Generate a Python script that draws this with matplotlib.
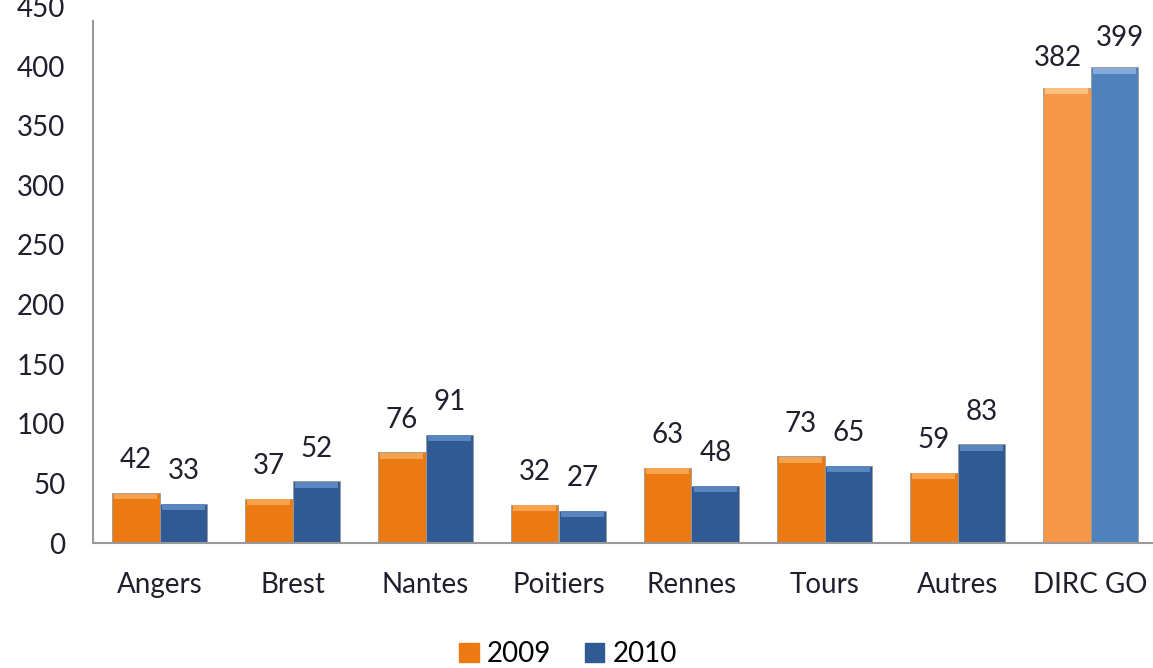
import numpy as np
import matplotlib.pyplot as plt

categories = ["Angers", "Brest", "Nantes", "Poitiers", "Rennes", "Tours", "Autres", "DIRC GO"]
years = ["2009", "2010"]
values_2009 = [42, 37, 76, 32, 63, 73, 59, 382]
values_2010 = [33, 52, 91, 27, 48, 65, 83, 399]
yticks = [0, 50, 100, 150, 200, 250, 300, 350, 400, 450]

plt.rcParams['font.family'] = ['Lato', 'DejaVu Sans']

orange = "#EC7A12"
orange_top = "#F7A24E"
blue = "#2F5A93"
blue_top = "#5A86C0"
# last group is drawn in lighter tones
orange_last = "#F79646"
orange_last_top = "#FBC07F"
blue_last = "#4F81BD"
blue_last_top = "#86AADB"
txt = "#1f1f2e"

fig = plt.figure(figsize=(11.53, 6.68), dpi=100)
ax = fig.add_axes([93 / 1153, 1 - 543 / 668, (1157 - 93) / 1153, (543 - 6.5) / 668])

x = np.arange(len(categories))
w = 0.36
cap = 5

for i in range(len(categories)):
    last = i == len(categories) - 1
    c1, t1 = (orange_last, orange_last_top) if last else (orange, orange_top)
    c2, t2 = (blue_last, blue_last_top) if last else (blue, blue_top)
    for xpos, v, c, t in [(x[i] - w / 2, values_2009[i], c1, t1),
                          (x[i] + w / 2, values_2010[i], c2, t2)]:
        ax.bar(xpos, v, w, color=c, edgecolor="#9a9a9a", linewidth=0.6, zorder=2)
        ax.bar(xpos, cap, w * 0.9, bottom=v - cap - 0.5, color=t, linewidth=0, zorder=3)

for i in range(len(categories)):
    last = i == len(categories) - 1
    off1 = (-6, 12) if last else (0, 14)
    off2 = (4, 12) if last else (0, 14)
    ax.annotate(str(values_2009[i]), (x[i] - w / 2, values_2009[i]), xytext=off1,
                textcoords="offset points", ha="center", va="bottom", fontsize=20, color=txt)
    ax.annotate(str(values_2010[i]), (x[i] + w / 2, values_2010[i]), xytext=off2,
                textcoords="offset points", ha="center", va="bottom", fontsize=20, color=txt)

ax.set_xlim(-0.5, len(categories) - 0.5)
ax.set_ylim(0, 450)
ax.set_yticks(yticks)
ax.set_yticklabels([str(t) for t in yticks], fontsize=20, color=txt)
ax.set_xticks(x)
ax.set_xticklabels(categories, fontsize=20, color=txt)
ax.tick_params(axis="y", length=0, pad=20)
ax.tick_params(axis="x", length=0, pad=21)
for s in ["top", "right"]:
    ax.spines[s].set_visible(False)
ax.spines["left"].set_color("#999999")
ax.spines["bottom"].set_color("#999999")
ax.spines["left"].set_bounds(0, 438)
ax.spines["left"].set_linewidth(1.5)
ax.spines["bottom"].set_linewidth(1.5)

handles = [plt.Rectangle((0, 0), 1, 1, color=orange), plt.Rectangle((0, 0), 1, 1, color=blue)]
fig.legend(handles, years, loc="center", bbox_to_anchor=(568 / 1153, 1 - 654 / 668), ncol=2,
           frameon=False, fontsize=20, handlelength=0.7, handleheight=0.7,
           handletextpad=0.3, columnspacing=1.2)

fig.savefig("out.png", dpi=100)
